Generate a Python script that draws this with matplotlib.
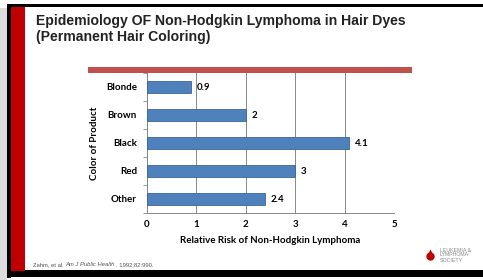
import matplotlib
matplotlib.use("Agg")
import matplotlib.pyplot as plt
from matplotlib.patches import Rectangle

# data
colors_of_product = ["Blonde", "Brown", "Black", "Red", "Other"]
relative_risk = [0.9, 2, 4.1, 3, 2.4]
risk_labels = ["0.9", "2", "4.1", "3", "2.4"]
x_ticks = [0, 1, 2, 3, 4, 5]

W, H = 483, 280
fig = plt.figure(figsize=(W / 100, H / 100), dpi=100)
fig.patch.set_facecolor("white")


def px(x, y, w, h):
    # pixel box (top-left origin) -> figure fraction
    return [x / W, 1 - (y + h) / H, w / W, h / H]


# slide frame: shadow, black border, red stripe
deco = fig.add_axes([0, 0, 1, 1])
deco.set_xlim(0, W)
deco.set_ylim(H, 0)
deco.axis("off")
deco.add_patch(Rectangle((0, 8), 7, 272, color="#dcdcdc", lw=0))
deco.add_patch(Rectangle((8, 4), 475, 2.5, color="black", lw=0))
deco.add_patch(Rectangle((7, 4), 4, 274, color="black", lw=0))
deco.add_patch(Rectangle((7, 270), 476, 7, color="black", lw=0))
deco.add_patch(Rectangle((11, 6.5), 14, 264, color="#c00000", lw=0))
deco.add_patch(Rectangle((88, 67), 324, 6, color="#c0504d", lw=0))

# title
deco.text(36, 29, "Epidemiology OF Non-Hodgkin Lymphoma in Hair Dyes\n(Permanent Hair Coloring)",
          fontsize=10.1, fontweight="bold", family="Liberation Sans", color="#222222",
          va="center", ha="left", linespacing=1.15)

# citation, journal name in italics; pieces laid side by side on one baseline
cite_kw = dict(fontsize=4.2, family="Liberation Sans", color="#555555", va="baseline")
renderer = fig.canvas.get_renderer()
x = 33
for piece, st in [("Zahm, et al. ", "normal"), ("Am J Public Health", "italic"),
                  (". 1992;82:990.", "normal")]:
    t = deco.text(x, 266, piece, style=st, **cite_kw)
    x += t.get_window_extent(renderer).width + (1 if st == "italic" else 0)

# logo
deco.plot([430], [256], marker="o", ms=6, color="#c00000", mec="none")
deco.plot([430], [252], marker="^", ms=5, color="#c00000", mec="none")
deco.text(440, 255, "LEUKEMIA &\nLYMPHOMA\nSOCIETY", fontsize=3.8, family="Liberation Sans",
          color="#888888", va="center", ha="left", linespacing=1.0)

# bar chart
lab_kw = dict(fontsize=7, fontweight="bold", family="Lato")
ax = fig.add_axes(px(146.7, 73, 247.3, 140))
ypos = list(range(len(colors_of_product)))
ax.barh(ypos, relative_risk, height=0.45, color="#4f81bd", edgecolor="#3a6698", lw=0.6, zorder=3)
for y, v, lab in zip(ypos, relative_risk, risk_labels):
    ax.annotate(lab, (v, y), xytext=(4, 0), textcoords="offset points",
                va="center", ha="left", **lab_kw)
ax.set_xlim(0, 5)
ax.set_ylim(len(ypos) - 0.5, -0.5)
ax.set_xticks(x_ticks)
ax.set_xticklabels([str(t) for t in x_ticks], **lab_kw)
ax.set_yticks(ypos)
ax.set_yticklabels(colors_of_product, **lab_kw)
ax.set_yticks([i + 0.5 for i in range(-1, len(ypos))], minor=True)
ax.tick_params(axis="y", which="major", length=0, pad=7)
ax.tick_params(axis="y", which="minor", length=3, color="#888888")
ax.tick_params(axis="x", length=0, pad=5)
ax.grid(axis="x", color="#888888", lw=0.7, zorder=0)
for s in ["top", "right"]:
    ax.spines[s].set_visible(False)
for s in ["left", "bottom"]:
    ax.spines[s].set_color("#888888")
    ax.spines[s].set_linewidth(0.7)
ax.set_xlabel("Relative Risk of Non-Hodgkin Lymphoma", labelpad=5, **lab_kw)
ax.set_ylabel("Color of Product", labelpad=5, **lab_kw)

fig.savefig("out.png", dpi=100, facecolor="white")
